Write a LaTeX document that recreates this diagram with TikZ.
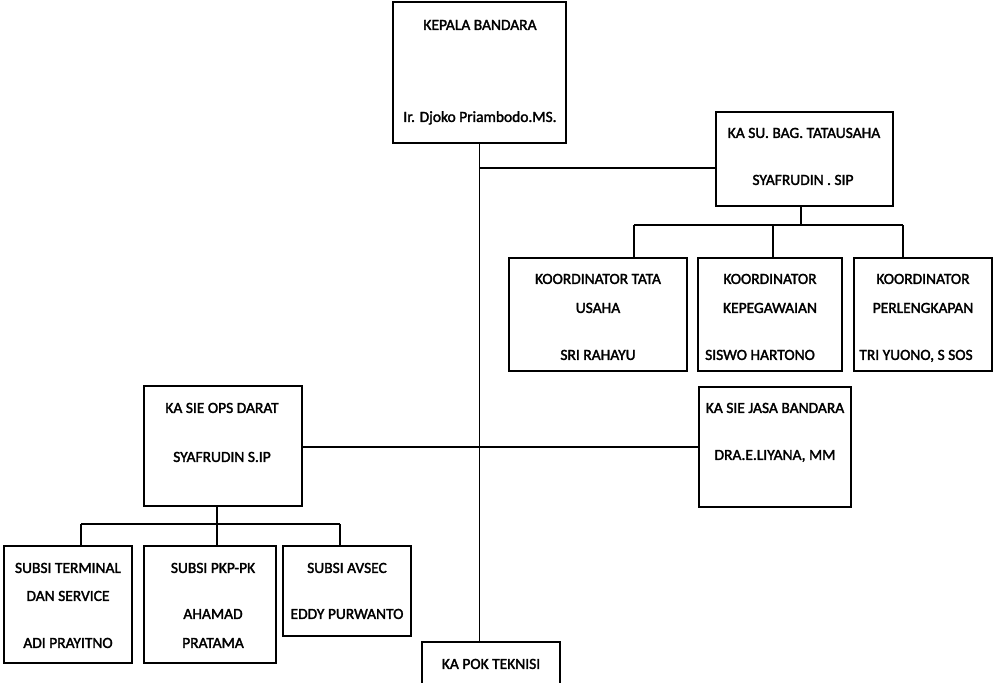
\documentclass[tikz,border=0pt]{standalone}
\usepackage{fontspec}
\setmainfont{Carlito}
\newfontfamily\skan{Carlito}[FakeBold=2]
\usetikzlibrary{fit,calc}
\tikzset{
  kotak/.style={draw, rectangle, line width=1pt, inner sep=0pt},
  teks/.style={inner sep=0pt, anchor=center, text height=7pt, text depth=0pt,
    font=\skan\fontsize{11}{13}\selectfont},
  garis/.style={line width=0.8pt}
}
\begin{document}
\begin{tikzpicture}[x=0.025cm,y=-0.025cm]
  \useasboundingbox (0,0) rectangle (1005,683);
  \clip (0,0) rectangle (1005,683);
  \newcommand{\busatas}{225}
  \newcommand{\busbawah}{524}
  % kepala bandara
  \node[kotak, fit={(393,2) (566,143)}] (kepala) {};
  \node[teks] (kepalaA) at (480,25) {KEPALA BANDARA};
  \node[teks] (kepalaB) at (480,117) {Ir. Djoko Priambodo.MS.};
  % tata usaha
  \node[kotak, fit={(716,112) (893,206)}] (tu) {};
  \node[teks] (tuA) at (804,133) {KA SU. BAG. TATAUSAHA};
  \node[teks] (tuB) at (803,180) {SYAFRUDIN . SIP};
  \node[kotak, fit={(509,258) (687,371)}] (koorA) {};
  \node[teks] (koorAa) at (598,279) {KOORDINATOR TATA};
  \node[teks] (koorAb) at (598,308) {USAHA};
  \node[teks] (koorAc) at (598,355) {SRI RAHAYU};
  \node[kotak, fit={(698,258) (842,371)}] (koorB) {};
  \node[teks] (koorBa) at (770,279) {KOORDINATOR};
  \node[teks] (koorBb) at (770,308) {KEPEGAWAIAN};
  \node[teks] (koorBc) at (760,355) {SISWO HARTONO};
  \node[kotak, fit={(854,258) (992,371)}] (koorC) {};
  \node[teks] (koorCa) at (923,279) {KOORDINATOR};
  \node[teks] (koorCb) at (923,308) {PERLENGKAPAN};
  \node[teks] (koorCc) at (916,355) {TRI YUONO, S SOS};
  % seksi
  \node[kotak, fit={(144,386) (302,506)}] (ops) {};
  \node[teks] (opsA) at (222,408) {KA SIE OPS DARAT};
  \node[teks] (opsB) at (222,457) {SYAFRUDIN S.IP};
  \node[kotak, fit={(699,387) (851,507)}] (jasa) {};
  \node[teks] (jasaA) at (775,408) {KA SIE JASA BANDARA};
  \node[teks] (jasaB) at (775,455) {DRA.E.LIYANA, MM};
  % subsi
  \node[kotak, fit={(4,546) (132,663)}] (subA) {};
  \node[teks] (subAa) at (68,568) {SUBSI TERMINAL};
  \node[teks] (subAb) at (68,596) {DAN SERVICE};
  \node[teks] (subAc) at (68,643) {ADI PRAYITNO};
  \node[kotak, fit={(144,546) (276,663)}] (subB) {};
  \node[teks] (subBa) at (213,568) {SUBSI PKP-PK};
  \node[teks] (subBb) at (213,614) {AHAMAD};
  \node[teks] (subBc) at (213,643) {PRATAMA};
  \node[kotak, fit={(283,546) (411,636)}] (subC) {};
  \node[teks] (subCa) at (347,568) {SUBSI AVSEC};
  \node[teks] (subCb) at (347,614) {EDDY PURWANTO};
  % teknisi
  \node[kotak, fit={(422,642) (560,720)}] (teknisi) {};
  \node[teks] (teknisiA) at (491,664) {KA POK TEKNISI};
  % garis
  \coordinate (cabangtu) at (480,168);
  \coordinate (cabangsie) at (480,447);
  \coordinate (turun) at (801,\busatas);
  \coordinate (opsturun) at (217,\busbawah);
  \draw[garis] (kepala.south) -- (kepala.south |- teknisi.north);
  \draw[garis] (cabangtu) -- (cabangtu -| tu.west);
  \draw[garis] (cabangsie -| ops.east) -- (cabangsie -| jasa.west);
  \draw[garis] (turun |- tu.south) -- (turun);
  \draw[garis] (634,\busatas) coordinate (busA) -- (903,\busatas) coordinate (busB);
  \draw[garis] (busA) -- (busA |- koorA.north);
  \draw[garis] (773,\busatas) coordinate (busM) -- (busM |- koorB.north);
  \draw[garis] (busB) -- (busB |- koorC.north);
  \draw[garis] (opsturun |- ops.south) -- (opsturun);
  \draw[garis] (81,\busbawah) coordinate (busC) -- (340,\busbawah) coordinate (busD);
  \draw[garis] (busC) -- (busC |- subA.north);
  \draw[garis] (opsturun) -- (opsturun |- subB.north);
  \draw[garis] (busD) -- (busD |- subC.north);
\end{tikzpicture}
\end{document}
